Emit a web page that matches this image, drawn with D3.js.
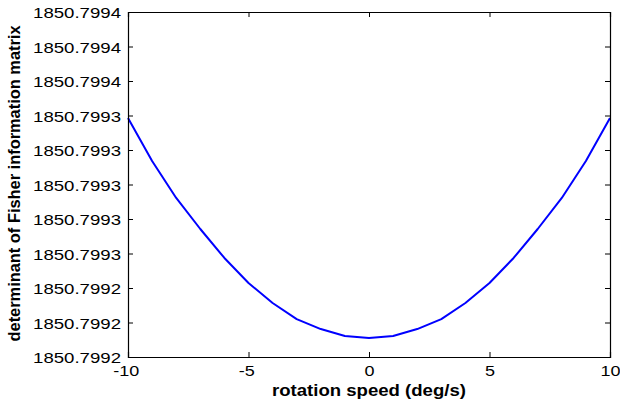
<!DOCTYPE html>
<html>
<head>
<meta charset="utf-8">
<script src="https://cdn.jsdelivr.net/npm/d3@7"></script>
<style>
html,body{margin:0;padding:0;background:#fff;}
svg{display:block;}
text{font-family:"Liberation Sans",Arial,sans-serif;fill:#000;}
</style>
</head>
<body>
<svg id="chart" width="620" height="403"></svg>
<script>
// Data
const speeds = [-10,-9,-8,-7,-6,-5,-4,-3,-2,-1,0,1,2,3,4,5,6,7,8,9,10];
const determinant = [
  1850.7993386, 1850.7993136, 1850.7992922, 1850.7992742, 1850.7992574,
  1850.7992429, 1850.7992313, 1850.7992220, 1850.7992162, 1850.7992122,
  1850.7992110,
  1850.7992122, 1850.7992162, 1850.7992220, 1850.7992313, 1850.7992429,
  1850.7992574, 1850.7992742, 1850.7992922, 1850.7993136, 1850.7993386
];
const xTicks = [-10,-5,0,5,10];
const xTickLabels = ["-10","-5","0","5","10"];
const yTicks = [1850.79920,1850.79922,1850.79924,1850.79926,1850.79928,1850.79930,
                1850.79932,1850.79934,1850.79936,1850.79938,1850.79940];
const yTickLabels = ["1850.7992","1850.7992","1850.7992","1850.7993","1850.7993","1850.7993",
                     "1850.7993","1850.7993","1850.7994","1850.7994","1850.7994"];
const xLabel = "rotation speed (deg/s)";
const yLabel = "determinant of Fisher information matrix";

const L = 128, R = 610, T = 12, B = 357;
const svg = d3.select("#chart");
const x = d3.scaleLinear().domain([-10,10]).range([L,R]);
const y = d3.scaleLinear().domain([yTicks[0], yTicks[yTicks.length-1]]).range([B,T]);

function stretch(sel, f){
  sel.each(function(){
    const w = this.getComputedTextLength();
    d3.select(this).attr("textLength", w*f).attr("lengthAdjust","spacingAndGlyphs");
  });
}

// curve
const line = d3.line().x((d,i)=>x(speeds[i])).y(d=>y(d));
svg.append("path").datum(determinant)
  .attr("d", line).attr("fill","none").attr("stroke","#0000ff")
  .attr("stroke-width",2).attr("stroke-linejoin","round");

// axes (ticks inward, mirrored)
const tl = 5;
const bottomAxis = d3.axisBottom(x).tickValues(xTicks).tickSize(-tl).tickFormat((d,i)=>xTickLabels[i]);
const topAxis = d3.axisTop(x).tickValues(xTicks).tickSize(-tl).tickFormat("");
const leftAxis = d3.axisLeft(y).tickValues(yTicks).tickSize(-tl).tickFormat((d,i)=>yTickLabels[i]);
const rightAxis = d3.axisRight(y).tickValues(yTicks).tickSize(-tl).tickFormat("");

const gB = svg.append("g").attr("transform",`translate(0,${B})`).call(bottomAxis);
const gT = svg.append("g").attr("transform",`translate(0,${T})`).call(topAxis);
const gL = svg.append("g").attr("transform",`translate(${L},0)`).call(leftAxis);
const gR = svg.append("g").attr("transform",`translate(${R},0)`).call(rightAxis);
[gB,gT,gL,gR].forEach(g=>{
  g.select(".domain").attr("stroke","#000").attr("stroke-width",1.2);
  g.selectAll(".tick line").attr("stroke","#000").attr("stroke-width",1);
});
gL.selectAll(".tick text").attr("x",-7).attr("dy","0.36em")
  .style("font-size","15.5px").style("font-family","Liberation Sans, Arial, sans-serif");
gB.selectAll(".tick text").attr("y",8).attr("dy","0.74em")
  .style("font-size","15px").style("font-family","Liberation Sans, Arial, sans-serif");
stretch(gL.selectAll(".tick text"),1.2);
stretch(gB.selectAll(".tick text"),1.2);
gB.selectAll(".tick text").filter((d,i)=>xTicks[i]<0).attr("dx","-0.15em");

// axis labels
const xl = svg.append("text").attr("x",(L+R)/2).attr("y",396).attr("text-anchor","middle")
  .style("font-size","16px").style("font-weight","bold").text(xLabel);
stretch(xl,1.16);
const yl = svg.append("text").attr("transform",`translate(20,${(B+T)/2 - 1}) rotate(-90)`)
  .attr("text-anchor","middle").style("font-size","16px").style("font-weight","bold").text(yLabel);
yl.attr("textLength",316).attr("lengthAdjust","spacingAndGlyphs");
</script>
</body>
</html>
